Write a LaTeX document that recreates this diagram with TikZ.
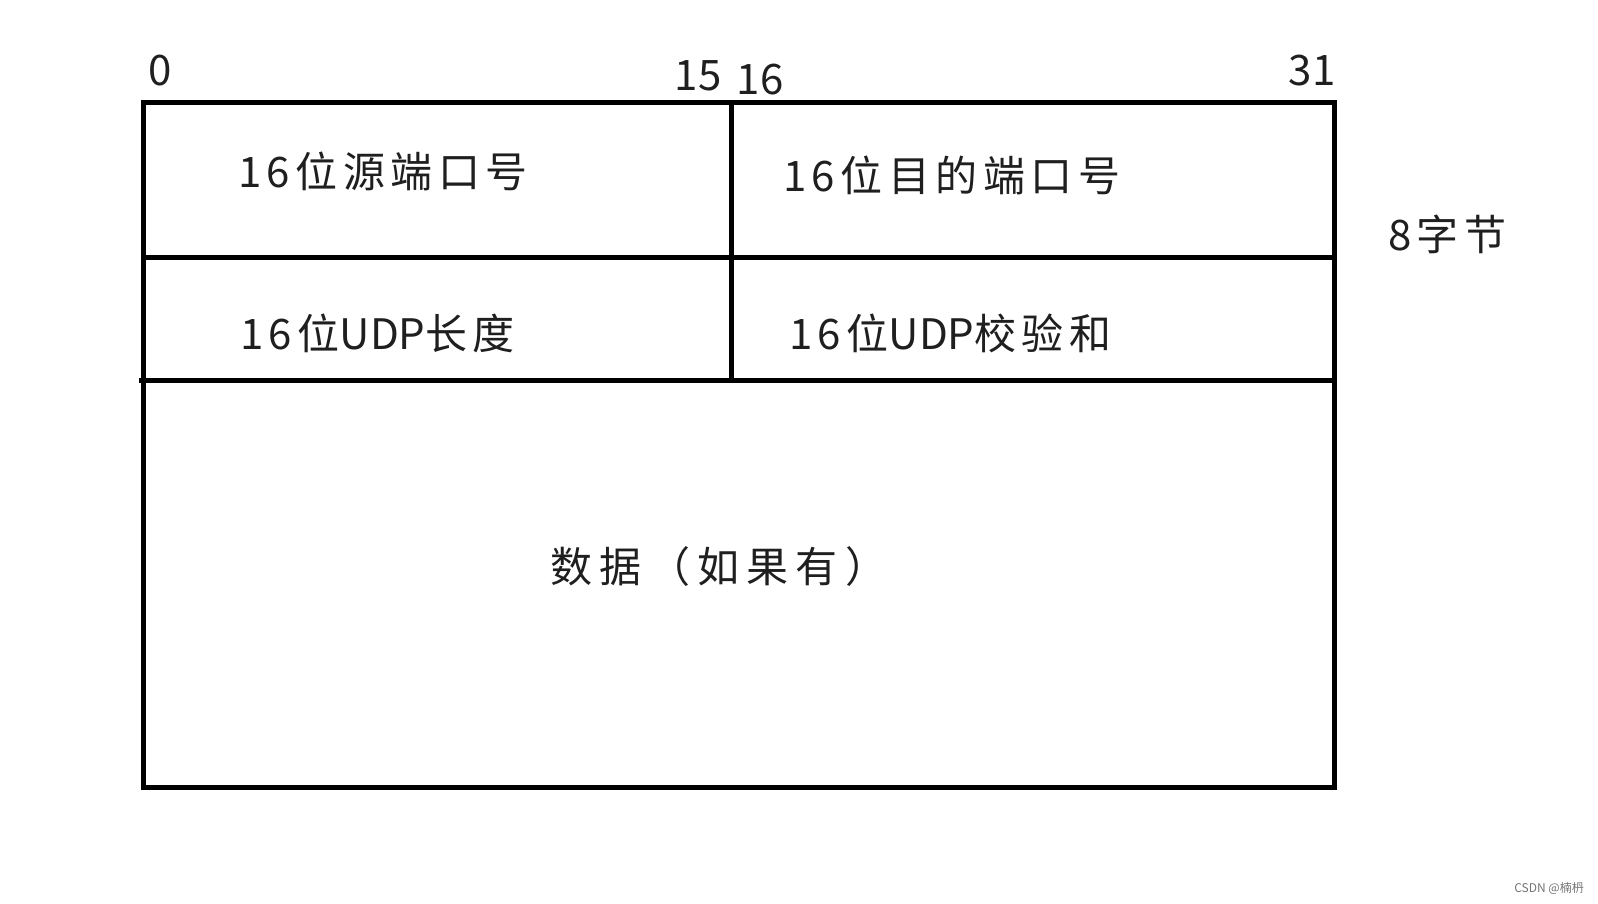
\documentclass[tikz,border=0pt]{standalone}
\usepackage{fontspec}
\newfontfamily\cjk[LetterSpace=13]{Noto Sans CJK SC}
\newfontfamily\cjkwide[LetterSpace=17]{Noto Sans CJK SC}
\newfontfamily\cjkplain{Noto Sans CJK SC}

\begin{document}
\begin{tikzpicture}[x=1pt, y=-1pt]
    % Khung trang (giữ tỉ lệ 1598x903)
    \useasboundingbox (0,0) rectangle (1598,903);

    % Các điểm góc của khung header UDP
    \coordinate (TL) at (143,102);
    \coordinate (TR) at (1334,102);
    \coordinate (BL) at (143,787);
    \coordinate (BR) at (1334,787);
    \coordinate (MT) at (731,102);
    \coordinate (M1) at (731,257);
    \coordinate (M2) at (731,380);

    % Styling
    \tikzset{
        hdr_line/.style={line width=5pt, color=black},
        hdr_text/.style={font=\cjk\fontsize{42}{50}\selectfont, text=black!88, anchor=west, inner sep=0pt},
        bit_num/.style={font=\cjkplain\fontsize{42}{50}\selectfont, text=black!88, inner sep=0pt}
    }

    % Vẽ khung và các đường chia
    \draw[hdr_line] (TL) rectangle (BR);
    \draw[hdr_line] (143,257) -- (1334,257);
    \draw[hdr_line] (139,380) -- (1334,380);
    \draw[hdr_line] (MT) -- (M2);

    % Số thứ tự bit
    \node[bit_num] (b0)  at (160,71)  {0};
    \node[bit_num] (b15) at (698,76)  {15};
    \node[bit_num] (b16) at (760,80)  {16};
    \node[bit_num] (b31) at (1312,71) {31};

    % Nội dung các trường
    \node[hdr_text] (src)  at (238,171) {16位源端口号};
    \node[hdr_text] (dst)  at (783,175) {16位目的端口号};
    \node[hdr_text] (len)  at (240,333) {16位{\cjkplain UDP}长度};
    \node[hdr_text] (chk)  at (789,333) {16位{\cjkplain UDP}校验和};
    \node[hdr_text, font=\cjkwide\fontsize{42}{50}\selectfont] (data) at (550,567) {数据（如果有）};
    \node[hdr_text] (size) at (1388,234) {8字节};

    % Watermark
    \node[font=\cjkplain\fontsize{12}{14}\selectfont, text=black!55, anchor=east, inner sep=0pt] (wm) at (1584,888) {CSDN @楠枬};
\end{tikzpicture}
\end{document}
